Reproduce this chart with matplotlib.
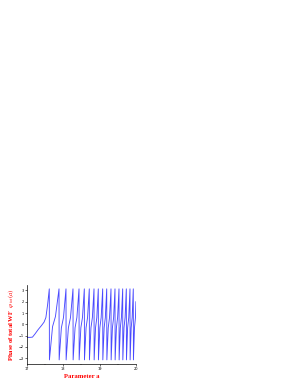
import matplotlib
matplotlib.use("Agg")
import matplotlib.pyplot as plt
from matplotlib.ticker import MultipleLocator

plt.rcParams["mathtext.fontset"] = "stix"

# Parameter a and phase values
param_a = [
    17.000, 17.080, 17.150, 17.220, 17.310, 17.400, 17.470, 17.520, 17.570, 17.614,
    17.618, 17.704, 17.784, 17.882,
    17.886, 17.947, 18.005, 18.074,
    18.078, 18.140, 18.198, 18.267,
    18.271, 18.324, 18.374, 18.433,
    18.437, 18.484, 18.528, 18.579,
    18.583, 18.627, 18.668, 18.716,
    18.720, 18.762, 18.801, 18.846,
    18.850, 18.888, 18.923, 18.964,
    18.968, 19.007, 19.043, 19.085,
    19.089, 19.125, 19.158, 19.196,
    19.200, 19.238, 19.273, 19.314,
    19.318, 19.353, 19.386, 19.424,
    19.428, 19.463, 19.496, 19.534,
    19.538, 19.571, 19.601, 19.636,
    19.640, 19.672, 19.702, 19.736,
    19.740, 19.772, 19.803, 19.837,
    19.841, 19.870, 19.897, 19.928,
    19.932, 19.961, 19.988, 20.000,
]
phase = [
    -1.15, -1.15, -1.13, -0.85, -0.45, -0.10, 0.20, 0.60, 1.80, 3.14,
    -3.14, -0.20, 0.70, 3.14,
    -3.14, -0.30, 0.60, 3.14,
    -3.14, -0.30, 0.60, 3.14,
    -3.14, -0.30, 0.60, 3.14,
    -3.14, -0.30, 0.60, 3.14,
    -3.14, -0.30, 0.60, 3.14,
    -3.14, -0.30, 0.60, 3.14,
    -3.14, -0.30, 0.60, 3.14,
    -3.14, -0.30, 0.60, 3.14,
    -3.14, -0.30, 0.60, 3.14,
    -3.14, -0.30, 0.60, 3.14,
    -3.14, -0.30, 0.60, 3.14,
    -3.14, -0.30, 0.60, 3.14,
    -3.14, -0.30, 0.60, 3.14,
    -3.14, -0.30, 0.60, 3.14,
    -3.14, -0.30, 0.60, 3.14,
    -3.14, -0.30, 0.60, 3.14,
    -3.14, -0.30, 0.60, 2.00,
]
x_ticks = [17, 18, 19, 20]
y_ticks = [-3, -2, -1, 0, 1, 2, 3]

fig = plt.figure(figsize=(3.0, 3.88), dpi=100)
ax = fig.add_axes([0.09, 0.062, 0.363, 0.204])
ax.plot(param_a, phase, color="#4a4aff", lw=0.65)
ax.set_xlim(17, 20)
ax.set_ylim(-3.5, 3.5)
ax.set_xticks(x_ticks)
ax.set_yticks(y_ticks)
ax.xaxis.set_minor_locator(MultipleLocator(0.5))
ax.tick_params(axis="both", which="major", labelsize=2.5, length=1.5, width=0.4, pad=1)
ax.tick_params(axis="both", which="minor", length=1, width=0.3)
for s in ax.spines.values():
    s.set_linewidth(0.5)
ax.spines["top"].set_visible(False)
ax.spines["right"].set_visible(False)

lab = dict(color="red", fontweight="bold", family=["Liberation Serif", "DejaVu Serif"], fontsize=4.8)
ax.set_ylabel(r"Phase of total WF  $\varphi_{tot}(a)$", labelpad=1.5, **lab)
ax.set_xlabel("Parameter a", labelpad=2, **lab)

fig.savefig("out.png", dpi=100)
